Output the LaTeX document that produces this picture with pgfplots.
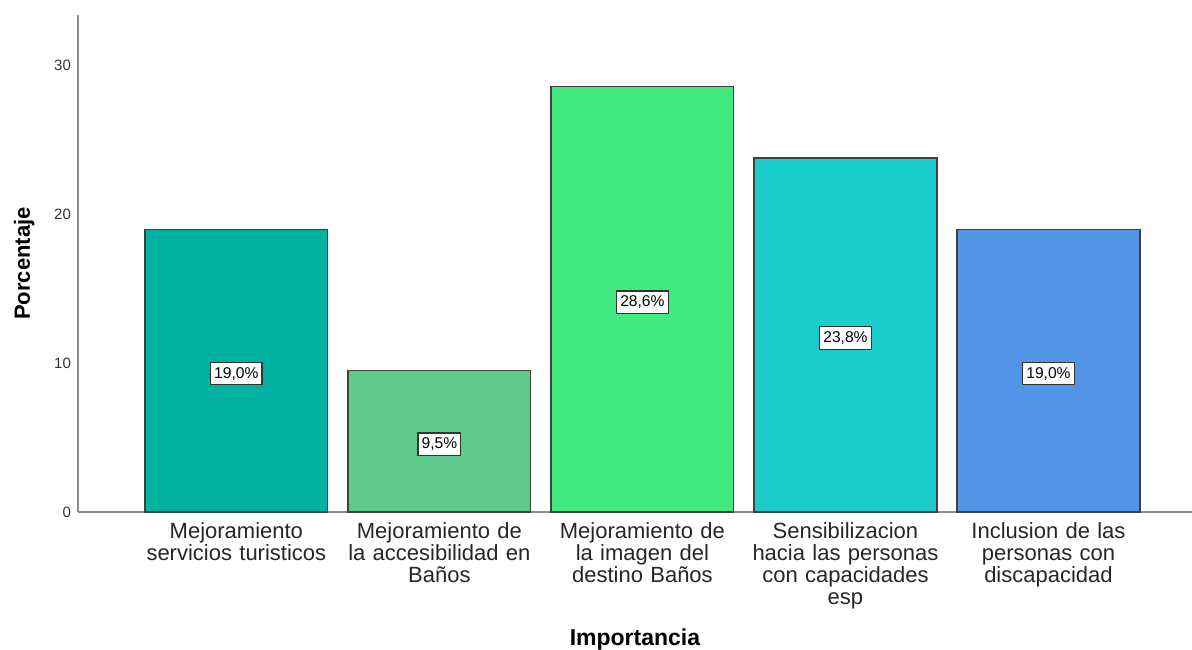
\documentclass[border=0pt]{standalone}
\usepackage{pgfplots}
\pgfplotsset{compat=1.18}
\usepackage{fontspec}
\setmainfont{Liberation Sans}
\usetikzlibrary{calc}

\definecolor{cA}{RGB}{0,179,160}
\definecolor{cB}{RGB}{94,201,139}
\definecolor{cC}{RGB}{66,233,128}
\definecolor{cD}{RGB}{27,204,204}
\definecolor{cE}{RGB}{82,148,230}

\pgfplotsset{
  barra/.style={ybar, bar width=0.9, bar shift=0pt, fill=#1,
    draw=black!75, line width=0.7pt,
    visualization depends on=y \as \rawy,
    nodes near coords={\pgfmathprintnumber[fixed,fixed zerofill,precision=1,use comma]{\pgfplotspointmeta}\%},
    every node near coord/.append style={anchor=center,
      shift={(axis direction cs:0,-\rawy/2)}, yshift=-1.5pt,
      fill=white, draw=black!80, line width=0.6pt, inner xsep=1.8pt, inner ysep=2.4pt,
      font=\fontsize{7.8}{8}\selectfont, text=black}},
}

\begin{document}
\begin{tikzpicture}
\begin{axis}[name=ax,
  scale only axis, width=557pt, height=248.5pt,
  xmin=-0.78, xmax=4.707, ymin=0, ymax=33.4,
  axis lines=left,
  axis line style={draw=black!45, line width=0.6pt, -},
  tick style={draw=none}, major tick length=0pt,
  ytick={0,10,20,30},
  xtick={0,1,2,3,4},
  xticklabels={{Mejoramiento\\servicios turisticos},
    {Mejoramiento de\\la accesibilidad en\\Baños},
    {Mejoramiento de\\la imagen del\\destino Baños},
    {Sensibilizacion\\hacia las personas\\con capacidades\\esp},
    {Inclusion de las\\personas con\\discapacidad}},
  /pgf/number format/assume math mode=true,
  yticklabel style={font=\fontsize{7.5}{9}\selectfont, text=black!80},
  xticklabel style={font=\fontsize{11}{11}\selectfont, align=center,
    text width=110pt, anchor=north, yshift=-1.5pt, text=black!85},
  xlabel={\textbf{Importancia}},
  ylabel={\textbf{Porcentaje}},
  xlabel style={at={(rel axis cs:0.5,0)}, anchor=base, yshift=-66.5pt,
    font=\fontsize{11.5}{12}\selectfont},
  ylabel style={at={([xshift=-24pt]rel axis cs:0,0.5)}, anchor=base,
    font=\fontsize{11}{12}\selectfont},
  clip=false,
]
\addplot[barra=cA] coordinates {(0,19.0)};
\addplot[barra=cB] coordinates {(1,9.5)};
\addplot[barra=cC] coordinates {(2,28.6)};
\addplot[barra=cD] coordinates {(3,23.8)};
\addplot[barra=cE] coordinates {(4,19.0)};
\end{axis}
\pgfresetboundingbox
\path ($(ax.south west)+(-39pt,-68.5pt)$) rectangle ($(ax.south west)+(557pt,256pt)$);
\end{tikzpicture}
\end{document}
